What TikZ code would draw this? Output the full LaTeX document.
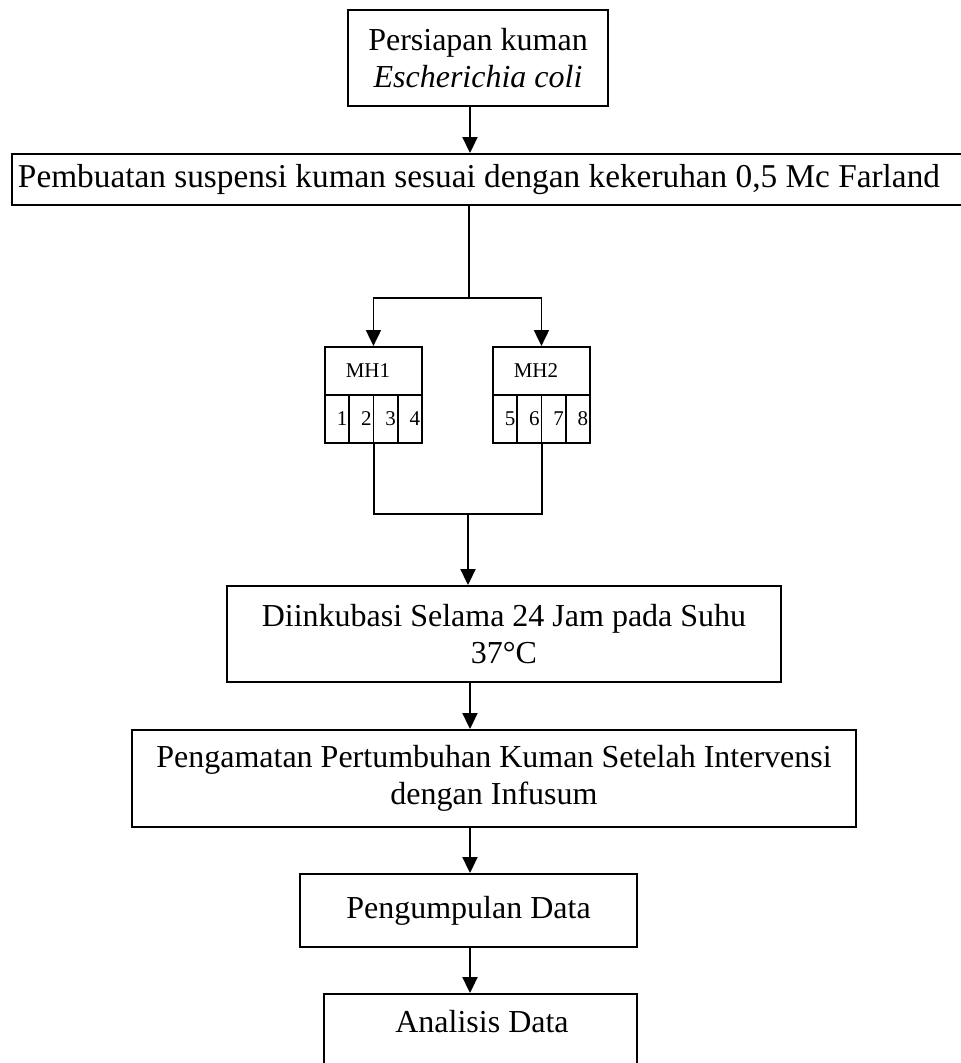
\documentclass[tikz,border=0pt]{standalone}
\usepackage{fontspec}
\setmainfont{Liberation Serif}
\usetikzlibrary{arrows.meta}
\begin{document}
\begin{tikzpicture}[x=1pt,y=-1pt,line width=1.9pt,
  box/.style={draw, rectangle, inner sep=0pt, line width=1.9pt, align=center,
    font=\fontsize{32}{37}\selectfont},
  txt/.style={inner sep=0pt, align=center, font=\fontsize{32}{37}\selectfont},
  head/.style={draw, rectangle, inner sep=0pt, minimum width=97pt, minimum height=48pt,
    anchor=north west, font=\fontsize{21}{25}\selectfont},
  cell/.style={draw, rectangle, inner sep=0pt, minimum width=24.25pt, minimum height=48pt,
    anchor=north west, font=\fontsize{21}{25}\selectfont},
  arr/.style={-{Triangle[length=16pt,width=15pt]}}]
\useasboundingbox (0,0) rectangle (961,1063);
\clip (0,0) rectangle (961,1063);

% main boxes
\node[box, minimum width=260pt, minimum height=96pt] (b1) at (478,58)
  {Persiapan kuman\\\textit{Escherichia coli}};
\node[box, minimum width=963pt, minimum height=51pt] (b2) at (493.5,179.5) {};
\node[txt, font=\fontsize{33.3}{38}\selectfont] (t2) at (479,180)
  {Pembuatan suspensi kuman sesuai dengan kekeruhan 0,5 Mc Farland};
\node[box, minimum width=554pt, minimum height=96pt] (b3) at (504,634)
  {Diinkubasi Selama 24 Jam pada Suhu\\37°C};
\node[box, minimum width=724pt, minimum height=97pt] (b4) at (494,778.5)
  {Pengamatan Pertumbuhan Kuman Setelah Intervensi\\dengan Infusum};
\node[box, minimum width=337pt, minimum height=73pt] (b5) at (468.5,910.5)
  {Pengumpulan Data};
\node[box, minimum width=313pt, minimum height=146pt] (b6) at (480.5,1067) {};
\node[txt] (t6) at (482,1022) {Analisis Data};

% MH1 block
\node[head] (h1) at (324,346) {MH1\hspace*{11pt}};
\node[cell] (c1) at (324,394) {\hspace*{10pt}1};
\node[cell] (c2) at (348.25,394) {\hspace*{10pt}2};
\node[cell] (c3) at (372.5,394) {\hspace*{10pt}3};
\node[cell] (c4) at (396.75,394) {\hspace*{10pt}4};
% MH2 block
\node[head] (h2) at (492,346) {MH2\hspace*{11pt}};
\node[cell] (c5) at (492,394) {\hspace*{10pt}5};
\node[cell] (c6) at (516.25,394) {\hspace*{10pt}6};
\node[cell] (c7) at (540.5,394) {\hspace*{10pt}7};
\node[cell] (c8) at (564.75,394) {\hspace*{10pt}8};

% connectors
\coordinate (spine) at (470,0);
\coordinate (split) at (469,298);
\coordinate (join) at (468,514);
\draw[arr] (b1.south -| spine) -- (b2.north -| spine);
\draw[arr] (b2.south -| split) -- (split) -| (h1.north);
\draw[arr] (split) -| (h2.north);
\draw (c2.south east) -- (c2.south east |- join) -- (c6.south east |- join) -- (c6.south east);
\draw[arr] (join) -- (b3.north -| join);
\draw[arr] (b3.south -| spine) -- (b4.north -| spine);
\draw[arr] (b4.south -| spine) -- (b5.north -| spine);
\draw[arr] (b5.south -| spine) -- (b6.north -| spine);
\end{tikzpicture}
\end{document}
